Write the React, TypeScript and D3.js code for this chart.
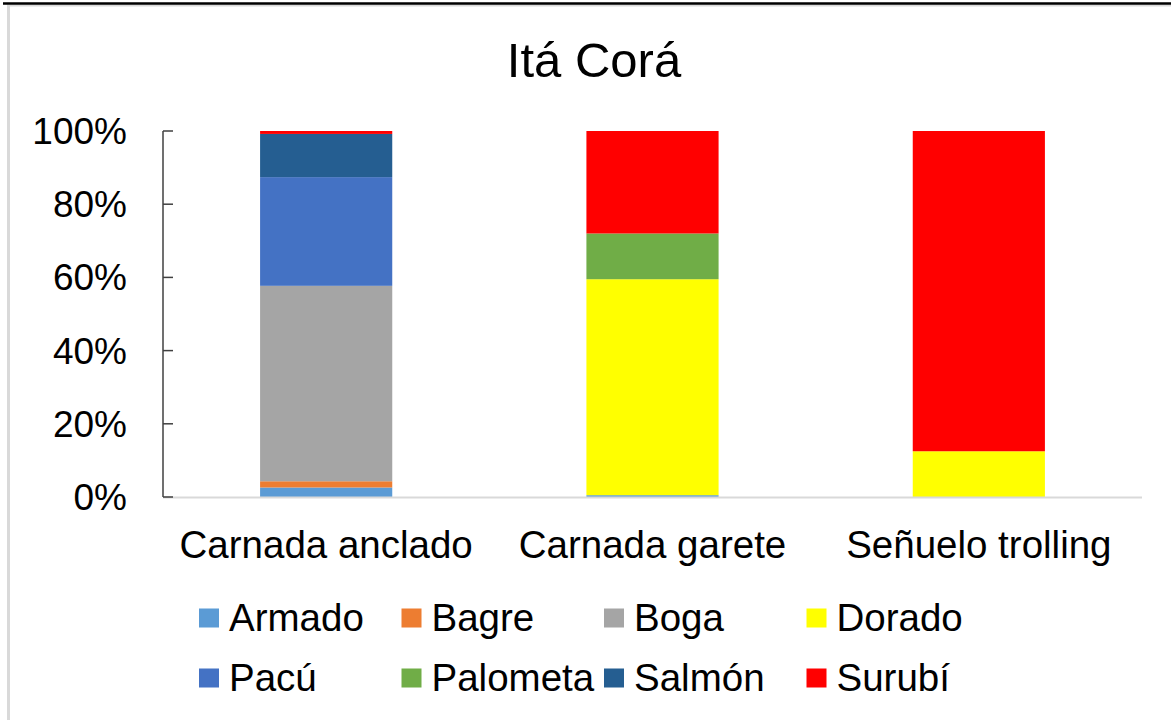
import { scaleBand, scaleLinear, stack } from "d3";
import { useMemo } from "react";

const categories = ["Carnada anclado", "Carnada garete", "Señuelo trolling"];
const species = ["Armado", "Bagre", "Boga", "Dorado", "Pacú", "Palometa", "Salmón", "Surubí"];
const speciesColors = ["#5B9BD5", "#ED7D31", "#A5A5A5", "#FFFF00", "#4472C4", "#70AD47", "#255E91", "#FF0000"];

// percentages per category, same order as categories
const armado = [2.6, 0.5, 0];
const bagre = [1.7, 0, 0];
const boga = [53.4, 0, 0];
const dorado = [0, 59.0, 12.5];
const pacu = [29.7, 0, 0];
const palometa = [0, 12.5, 0];
const salmon = [11.8, 0, 0];
const surubi = [0.8, 28.0, 87.5];

const yTicks = [0, 20, 40, 60, 80, 100];

const width = 1171;
const height = 720;
const plotLeft = 163;
const plotRight = 1142;
const plotTop = 131;
const plotBottom = 497;
const font = "'Liberation Sans', Arial, sans-serif";

type Row = { category: string } & Record<string, number | string>;

export default function App(): React.JSX.Element {
  const rows = useMemo<Row[]>(() => {
    const series = [armado, bagre, boga, dorado, pacu, palometa, salmon, surubi];
    return categories.map((category, i) => {
      const row: Row = { category };
      species.forEach((name, s) => {
        row[name] = series[s][i];
      });
      return row;
    });
  }, []);

  const x = scaleBand<string>()
    .domain(categories)
    .range([plotLeft, plotRight])
    .paddingInner(0.595)
    .paddingOuter(0.2975);
  const y = scaleLinear().domain([0, 100]).range([plotBottom, plotTop]);

  const layers = stack<Row>()
    .keys(species)
    .value((d, key) => Number(d[key]))(rows);

  const legendX = (i: number) => 199 + (i % 4) * 202.5;
  const legendY = (i: number) => (i < 4 ? 618 : 678);

  return (
    <svg
      width={width}
      height={height}
      viewBox={`0 0 ${width} ${height}`}
      style={{ position: "absolute", left: 0, top: 0, background: "#fff" }}
      fontFamily={font}
    >
      {/* frame */}
      <rect x={0} y={0} width={width} height={height} fill="#fff" />
      <line x1={7} x2={width} y1={5.5} y2={5.5} stroke="#D9D9D9" strokeWidth={2} />
      <line x1={8.5} x2={8.5} y1={5} y2={height} stroke="#D9D9D9" strokeWidth={3} />
      <line x1={3} x2={width} y1={3.5} y2={3.5} stroke="#000" strokeWidth={2.5} />

      <text x={594} y={77} textAnchor="middle" fontSize={49} fill="#000">
        Itá Corá
      </text>

      {/* bars */}
      {layers.map((layer, s) => (
        <g key={layer.key} fill={speciesColors[s]}>
          {layer.map((seg) => {
            const h = y(seg[0]) - y(seg[1]);
            if (h <= 0) {
              return null;
            }
            return (
              <rect
                key={seg.data.category}
                x={x(seg.data.category)}
                y={y(seg[1])}
                width={x.bandwidth()}
                height={h}
              />
            );
          })}
        </g>
      ))}

      {/* x axis */}
      <line x1={plotLeft} x2={plotRight} y1={plotBottom + 0.5} y2={plotBottom + 0.5} stroke="#D9D9D9" strokeWidth={2} />
      {categories.map((c) => (
        <text
          key={c}
          x={(x(c) ?? 0) + x.bandwidth() / 2}
          y={545}
          dy="0.35em"
          textAnchor="middle"
          fontSize={38.5}
          fill="#000"
        >
          {c}
        </text>
      ))}

      {/* y axis */}
      <line x1={plotLeft} x2={plotLeft} y1={plotTop} y2={plotBottom} stroke="#404040" strokeWidth={1.5} />
      {yTicks.map((t) => (
        <g key={t}>
          <line x1={plotLeft} x2={plotLeft + 10} y1={y(t)} y2={y(t)} stroke="#404040" strokeWidth={1.5} />
          <text x={127} y={y(t)} dy="0.35em" textAnchor="end" fontSize={37} fill="#000">
            {`${t}%`}
          </text>
        </g>
      ))}

      {/* legend */}
      {species.map((name, i) => (
        <g key={name} transform={`translate(${legendX(i)},${legendY(i)})`}>
          <rect x={0} y={-9.5} width={20} height={19} fill={speciesColors[i]} />
          <text x={30} y={0} dy="0.35em" fontSize={38.5} fill="#000">
            {name}
          </text>
        </g>
      ))}
    </svg>
  );
}
